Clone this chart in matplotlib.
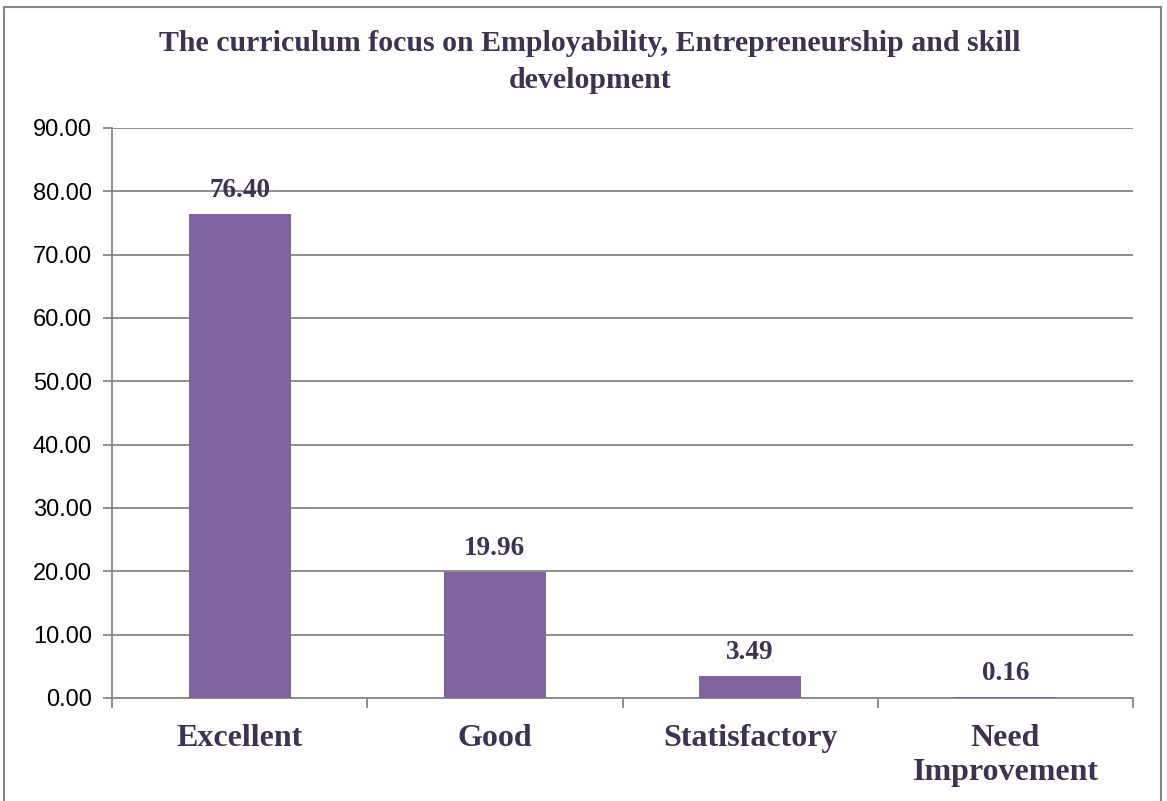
import matplotlib.pyplot as plt
from matplotlib.patches import Rectangle
import numpy as np

categories = ["Excellent", "Good", "Statisfactory", "Need\nImprovement"]
values = [76.40, 19.96, 3.49, 0.16]
y_ticks = [0, 10, 20, 30, 40, 50, 60, 70, 80, 90]

BAR = "#8064a2"
TEXT = "#3f3151"
GRID = "#868686"
SERIF = "Liberation Serif"

fig = plt.figure(figsize=(11.67, 8.01), dpi=100)
fig.patches.append(Rectangle((4 / 1167, -0.01), 1157 / 1167, 1 - 7 / 801 + 0.01,
                             transform=fig.transFigure, fill=False,
                             edgecolor=GRID, linewidth=1.5))

ax = fig.add_axes([112 / 1167, 1 - 698 / 801, (1133 - 112) / 1167, (698 - 128) / 801])
x = np.arange(len(categories))
ax.bar(x, values, width=0.4, color=BAR, zorder=3)

for xi, v in zip(x, values):
    ax.annotate(f"{v:.2f}", (xi, v), xytext=(0, 12), textcoords="offset points",
                ha="center", va="baseline", fontsize=19.5, fontweight="bold",
                family=SERIF, color=TEXT)

ax.set_xlim(-0.5, len(categories) - 0.5)
ax.set_ylim(0, 90)
ax.set_yticks(y_ticks)
ax.set_yticklabels([f"{t:.2f}" for t in y_ticks], fontsize=17, family="Liberation Sans")
ax.yaxis.grid(True, color=GRID, linewidth=1.3, zorder=0)
ax.tick_params(axis="y", length=6.5, width=1.3, color=GRID, pad=8)

ax.set_xticks(np.arange(-0.5, len(categories), 1.0))
ax.set_xticklabels([])
ax.set_xticks(x, minor=True)
ax.set_xticklabels(categories, minor=True, fontsize=23, fontweight="bold",
                   family=SERIF, color=TEXT, linespacing=1.2)
ax.tick_params(axis="x", which="major", length=7, width=1.3, color=GRID)
ax.tick_params(axis="x", which="minor", length=0, pad=19)
for lbl in ax.get_xticklabels(minor=True):
    lbl.set_verticalalignment("top")

for s in ["top", "right"]:
    ax.spines[s].set_visible(False)
for s in ["left", "bottom"]:
    ax.spines[s].set_color(GRID)
    ax.spines[s].set_linewidth(1.3)

fig.text(590 / 1167, 1 - 62 / 801, "The curriculum focus on Employability, Entrepreneurship and skill\ndevelopment",
         ha="center", va="center", fontsize=21.5, fontweight="bold", family=SERIF,
         color=TEXT, linespacing=1.45)

fig.savefig("out.png", dpi=100)
